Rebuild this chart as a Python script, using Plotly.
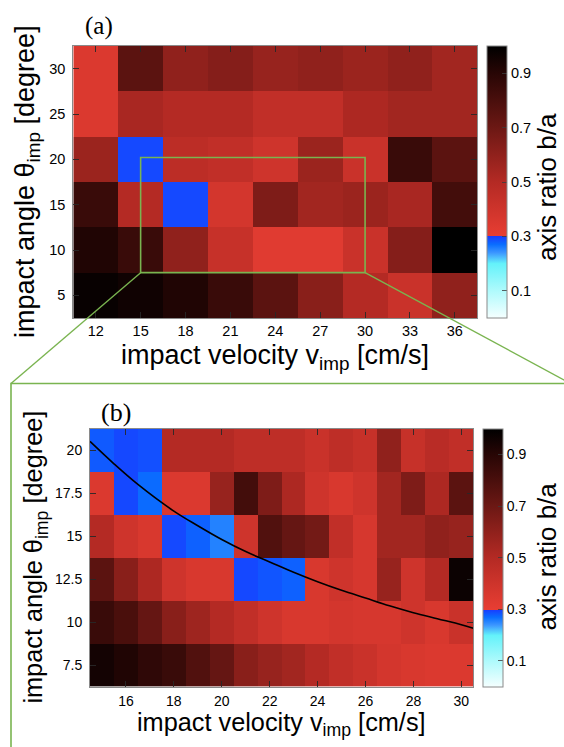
import plotly.graph_objects as go

W, H = 564, 747

# ---------------- data ----------------
# panel (a)
vel_a = [12, 15, 18, 21, 24, 27, 30, 33, 36]
ang_a = [5, 10, 15, 20, 25, 30]
ratio_a = [
    [0.98, 0.96, 0.92, 0.85, 0.75, 0.62, 0.50, 0.42, 0.60],  # 5
    [0.92, 0.85, 0.60, 0.43, 0.33, 0.33, 0.42, 0.63, 1.00],  # 10
    [0.85, 0.50, 0.292, 0.38, 0.65, 0.55, 0.57, 0.53, 0.82],  # 15
    [0.57, 0.292, 0.47, 0.45, 0.40, 0.57, 0.42, 0.85, 0.75],  # 20
    [0.35, 0.53, 0.50, 0.50, 0.45, 0.45, 0.52, 0.55, 0.55],  # 25
    [0.35, 0.75, 0.60, 0.63, 0.58, 0.60, 0.57, 0.60, 0.55],  # 30
]

# panel (b)
vel_b = [15, 16, 17, 18, 19, 20, 21, 22, 23, 24, 25, 26, 27, 28, 29, 30]
ang_b = [7.5, 10, 12.5, 15, 17.5, 20]
ratio_b = [
    [0.95, 0.92, 0.88, 0.85, 0.78, 0.72, 0.62, 0.58, 0.55, 0.50, 0.45, 0.42, 0.38, 0.36, 0.35, 0.35],  # 7.5
    [0.85, 0.80, 0.72, 0.62, 0.56, 0.50, 0.45, 0.40, 0.36, 0.36, 0.38, 0.37, 0.37, 0.40, 0.36, 0.42],  # 10
    [0.75, 0.62, 0.52, 0.40, 0.36, 0.36, 0.293, 0.285, 0.278, 0.36, 0.40, 0.37, 0.58, 0.40, 0.50, 0.97],  # 12.5
    [0.50, 0.40, 0.36, 0.292, 0.278, 0.255, 0.40, 0.78, 0.72, 0.68, 0.45, 0.37, 0.55, 0.55, 0.60, 0.58],  # 15
    [0.35, 0.293, 0.272, 0.35, 0.35, 0.58, 0.82, 0.65, 0.52, 0.40, 0.36, 0.40, 0.55, 0.65, 0.52, 0.75],  # 17.5
    [0.282, 0.293, 0.288, 0.50, 0.50, 0.50, 0.46, 0.46, 0.46, 0.42, 0.46, 0.43, 0.60, 0.43, 0.48, 0.45],  # 20
]

# black curve in (b)
curve_v = [14.5, 15.5, 16.5, 18, 19, 20, 21, 22, 23, 24, 25, 26, 27, 28, 29, 30, 30.5]
curve_t = [20.5, 19.2, 18.0, 16.45, 15.6, 14.8, 14.1, 13.5, 12.9, 12.35, 11.85, 11.4, 10.95, 10.55, 10.2, 9.85, 9.65]

# zoom window drawn on (a)
zoom_v = [15, 30]
zoom_t = [7.5, 20.2]

cb_ticks = [0.1, 0.3, 0.5, 0.7, 0.9]

# ---------------- style ----------------
cscale = [
    [0.0, 'rgb(245,255,255)'],
    [0.1, 'rgb(175,250,252)'],
    [0.2, 'rgb(100,242,250)'],
    [0.24, 'rgb(60,150,255)'],
    [0.27, 'rgb(10,110,255)'],
    [0.3, 'rgb(25,60,255)'],
    [0.3, 'rgb(232,62,51)'],
    [0.5, 'rgb(180,42,36)'],
    [0.7, 'rgb(108,24,20)'],
    [0.9, 'rgb(40,6,5)'],
    [1.0, 'rgb(0,0,0)'],
]
FONT = 'Liberation Sans, Arial, sans-serif'
SERIF = 'Liberation Serif, Times New Roman, serif'
GREEN = 'rgb(122,180,80)'


def px(x):
    return x / W


def py(y):
    return 1 - y / H


# plot areas (pixels)
A = dict(x0=73.3, x1=477.3, y0=46, y1=318)
B = dict(x0=90, x1=473.3, y0=428.5, y1=686.7)
ax_rng = [10.5, 37.5]
ay_rng = [2.5, 32.5]
bx_rng = [14.5, 30.5]
by_rng = [6.25, 21.25]

fig = go.Figure()


def cbar(x0, top, bot, fs):
    return dict(
        x=px(x0), xanchor='left', thickness=20, thicknessmode='pixels',
        y=py((top + bot) / 2), yanchor='middle', len=(bot - top) / H, lenmode='fraction',
        tickvals=cb_ticks, ticktext=[f'{t:.1f}' for t in cb_ticks],
        ticks='inside', ticklen=5, tickcolor='rgba(60,60,60,0.8)',
        tickfont=dict(family=FONT, size=fs, color='black'),
        outlinecolor='#8a8a8a', outlinewidth=1, ypad=0, xpad=0,
    )


fig.add_trace(go.Heatmap(
    x=vel_a, y=ang_a, z=ratio_a, zmin=0, zmax=1, colorscale=cscale,
    xaxis='x', yaxis='y', colorbar=cbar(486.7, A['y0'], A['y1'], 14.5), hoverinfo='skip'))
fig.add_trace(go.Heatmap(
    x=vel_b, y=ang_b, z=ratio_b, zmin=0, zmax=1, colorscale=cscale,
    xaxis='x2', yaxis='y2', colorbar=cbar(483.3, B['y0'], B['y1'], 14), hoverinfo='skip'))
fig.add_trace(go.Scatter(
    x=curve_v, y=curve_t, mode='lines', line=dict(color='black', width=1.6, shape='spline'),
    xaxis='x2', yaxis='y2', showlegend=False, hoverinfo='skip'))


def axis_common(fs):
    return dict(
        showline=True, linecolor='#8a8a8a', linewidth=1, mirror='allticks',
        ticks='inside', ticklen=6, tickcolor='rgba(40,40,40,0.9)', showgrid=False, zeroline=False,
        tickfont=dict(family=FONT, size=fs, color='black'),
    )


fig.update_layout(
    width=W, height=H, margin=dict(l=0, r=0, t=0, b=0),
    paper_bgcolor='white', plot_bgcolor='white', showlegend=False,
    xaxis=dict(domain=[px(A['x0']), px(A['x1'])], range=ax_rng, tickvals=vel_a,
               anchor='y', ticklabelstandoff=0, **axis_common(14.5)),
    yaxis=dict(domain=[py(A['y1']), py(A['y0'])], range=ay_rng, tickvals=ang_a,
               anchor='x', ticklabelstandoff=4, **axis_common(14.5)),
    xaxis2=dict(domain=[px(B['x0']), px(B['x1'])], range=bx_rng, tickvals=[16, 18, 20, 22, 24, 26, 28, 30],
                anchor='y2', ticklabelstandoff=1, **axis_common(14)),
    yaxis2=dict(domain=[py(B['y1']), py(B['y0'])], range=by_rng, tickvals=ang_b,
                ticktext=['7.5', '10', '12.5', '15', '17.5', '20'],
                anchor='x2', ticklabelstandoff=4, **axis_common(14)),
)

# zoom rectangle on (a) and connector lines
fig.add_shape(type='rect', xref='x', yref='y', x0=zoom_v[0], x1=zoom_v[1], y0=zoom_t[0], y1=zoom_t[1],
              line=dict(color=GREEN, width=1.6), layer='above')


def a_to_paper(v, t):
    fx = px(A['x0']) + (v - ax_rng[0]) / (ax_rng[1] - ax_rng[0]) * (px(A['x1']) - px(A['x0']))
    fy = py(A['y1']) + (t - ay_rng[0]) / (ay_rng[1] - ay_rng[0]) * (py(A['y0']) - py(A['y1']))
    return fx, fy


lx, ly = a_to_paper(zoom_v[0], zoom_t[0])
rx, ry = a_to_paper(zoom_v[1], zoom_t[0])
fig.add_shape(type='line', xref='paper', yref='paper', x0=lx, y0=ly, x1=px(11), y1=py(383.5),
              line=dict(color=GREEN, width=1.4))
fig.add_shape(type='line', xref='paper', yref='paper', x0=rx, y0=ry, x1=px(566), y1=py(381),
              line=dict(color=GREEN, width=1.4))
fig.add_shape(type='rect', xref='paper', yref='paper', x0=px(11), y0=py(383.5), x1=1.02, y1=-0.02,
              line=dict(color=GREEN, width=1.6), layer='below')

ann = []
ytitle = 'impact angle θ<sub>imp</sub> [degree]'
xtitle = 'impact velocity v<sub>imp</sub> [cm/s]'
cbtitle = 'axis ratio b/a'
for (P, lab, lab_xy, yx, xy, fs, lfs, cbdy) in [
    (A, '(a)', (99, 26), 27, 357, 27, 25, 5),
    (B, '(b)', (116, 412), 35, 724, 25.3, 26, -1),
]:
    cy = (P['y0'] + P['y1']) / 2
    cx = (P['x0'] + P['x1']) / 2
    ann.append(dict(text=ytitle, x=px(yx), y=py(cy), xref='paper', yref='paper', textangle=-90,
                    showarrow=False, xanchor='center', yanchor='middle',
                    font=dict(family=FONT, size=fs, color='black')))
    ann.append(dict(text=xtitle, x=px(cx), y=py(xy), xref='paper', yref='paper',
                    showarrow=False, xanchor='center', yanchor='middle',
                    font=dict(family=FONT, size=fs, color='black')))
    ann.append(dict(text=cbtitle, x=1.0, y=py(cy + cbdy), xref='paper', yref='paper', textangle=-90,
                    showarrow=False, xanchor='right', yanchor='middle',
                    font=dict(family=FONT, size=26, color='black')))
    ann.append(dict(text=lab, x=px(lab_xy[0]), y=py(lab_xy[1]), xref='paper', yref='paper',
                    showarrow=False, xanchor='center', yanchor='middle',
                    font=dict(family=SERIF, size=lfs, color='black')))
fig.update_layout(annotations=ann)

fig.write_html('out.html', config={'displayModeBar': False},
               post_script="document.body.style.margin='0';document.body.style.padding='0';"
                           "document.body.style.overflow='hidden';")
